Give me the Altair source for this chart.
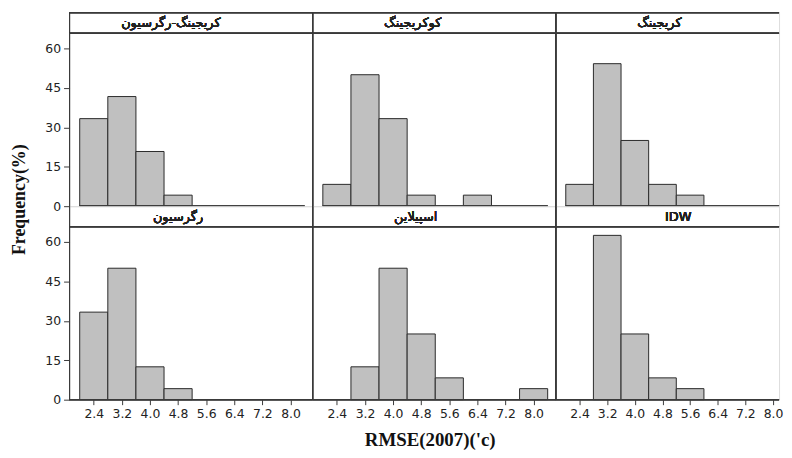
import altair as alt
import pandas as pd

# ---- data ----
centers = [2.4, 3.2, 4.0, 4.8, 5.6, 6.4, 7.2, 8.0]
bin_half = 0.4
titles = ["کریجینگ-رگرسیون", "کوکریجینگ", "کریجینگ", "رگرسیون", "اسپیلاین", "IDW"]
freq_kriging_regression = [33.3, 41.7, 20.8, 4.2, 0, 0, 0, 0]
freq_cokriging = [8.3, 50.0, 33.3, 4.2, 0, 4.2, 0, 0]
freq_kriging = [8.3, 54.2, 25.0, 8.3, 4.2, 0, 0, 0]
freq_regression = [33.3, 50.0, 12.5, 4.2, 0, 0, 0, 0]
freq_spline = [0, 12.5, 50.0, 25.0, 8.3, 0, 0, 4.2]
freq_idw = [0, 62.5, 25.0, 8.3, 4.2, 0, 0, 0]
x_ticks = [2.4, 3.2, 4.0, 4.8, 5.6, 6.4, 7.2, 8.0]
y_ticks = [0, 15, 30, 45, 60]
baseline_range = [2.0, 8.4]
x_title = "RMSE(2007)('c)"
y_title = "Frequency(%)"

series = [freq_kriging_regression, freq_cokriging, freq_kriging,
          freq_regression, freq_spline, freq_idw]

# ---- layout / style ----
FONT = "DejaVu Sans"
SERIF = "Liberation Serif"
LINE = "#3a3a3a"
X_MIN = 1.71
Y_MAX = 73.6
CELL_H = 195
STRIP_H = 20.7
widths = [245, 245, 225]
x_max = [8.63, 8.63, 8.175]
# left edge of each strip label, in pixels from the panel's left border
title_left = [52, 72, 82, 84, 82, 110]


def panel(i):
    col = i % 3
    row = i // 3
    w = widths[col]
    df = pd.DataFrame({"center": centers, "freq": series[i]})
    xscale = alt.Scale(domain=[X_MIN, x_max[col]], nice=False, zero=False)
    yscale = alt.Scale(domain=[0, Y_MAX], nice=False, zero=False)

    if row == 1:
        xaxis = alt.Axis(
            values=x_ticks, tickCount=20, format=".1f", domain=False,
            grid=False, tickSize=5, tickColor=LINE, labelFont=FONT,
            labelFontSize=12.5, labelColor="#222", labelPadding=3,
            labelOverlap=False,
            title=x_title if col == 1 else None,
            titleFont=SERIF, titleFontSize=19, titleFontWeight="bold",
            titleColor="#111", titleBaseline="alphabetic", titleY=46,
            titleX=118, titleAlign="center",
        )
    else:
        xaxis = None

    if col == 0:
        yaxis = alt.Axis(
            values=y_ticks, tickCount=20, domain=False, grid=False,
            tickSize=6, tickColor=LINE, labelFont=FONT, labelFontSize=12.5,
            labelColor="#222", labelPadding=3, labelOverlap=False,
            title=y_title if row == 0 else None,
            titleFont=SERIF, titleFontSize=18, titleFontWeight="bold",
            titleColor="#111", titleAngle=270, titleX=-50, titleY=188,
            titleAlign="center", titleBaseline="middle",
        )
    else:
        yaxis = None

    bars = (
        alt.Chart(df)
        .transform_filter("datum.freq > 0")
        .transform_calculate(x0=f"datum.center - {bin_half}",
                             x1=f"datum.center + {bin_half}")
        .mark_rect(fill="#c0c0c0", stroke="#2a2a2a", strokeWidth=1)
        .encode(
            x=alt.X("x0:Q", scale=xscale, axis=xaxis),
            x2="x1:Q",
            y=alt.Y("freq:Q", scale=yscale, axis=yaxis),
            y2=alt.datum(0),
        )
    )
    base = alt.Chart(df).mark_rule(color=LINE, strokeWidth=1, clip=True).encode(
        x=alt.datum(baseline_range[0]),
        x2=alt.datum(baseline_range[1]),
        y=alt.datum(0),
    )
    left = alt.Chart(df).mark_rule(color=LINE, strokeWidth=1).encode(
        x=alt.value(0), y=alt.value(0), y2=alt.value(CELL_H))
    strip = alt.Chart(df).mark_rule(color=LINE, strokeWidth=1).encode(
        x=alt.value(0), x2=alt.value(w), y=alt.value(STRIP_H))
    label = alt.Chart(df).mark_text(
        font=FONT, fontSize=13, fontWeight="normal", color="#222",
        baseline="middle", align="left"
    ).encode(x=alt.value(title_left[i]), y=alt.value(STRIP_H / 2 + 0.5),
             text=alt.value(titles[i]))
    layers = [bars, base, left, strip, label]
    if row == 0:
        layers.append(alt.Chart(df).mark_rule(color=LINE, strokeWidth=1).encode(
            x=alt.value(0), x2=alt.value(w), y=alt.value(0)))
    else:
        layers.append(alt.Chart(df).mark_rule(color=LINE, strokeWidth=1).encode(
            x=alt.value(0), x2=alt.value(w), y=alt.value(CELL_H)))
    return alt.layer(*layers).properties(width=w, height=CELL_H)


chart = (
    alt.concat(*[panel(i) for i in range(6)], columns=3, spacing=0,
               bounds="flush")
    .properties(padding={"top": 2, "left": 2, "right": 0, "bottom": 0})
    .configure_view(stroke=None)
    .configure_axis(labelOverlap=False)
    .configure(background="white")
)

chart.save("out.html", embed_options={"renderer": "svg", "actions": False})
